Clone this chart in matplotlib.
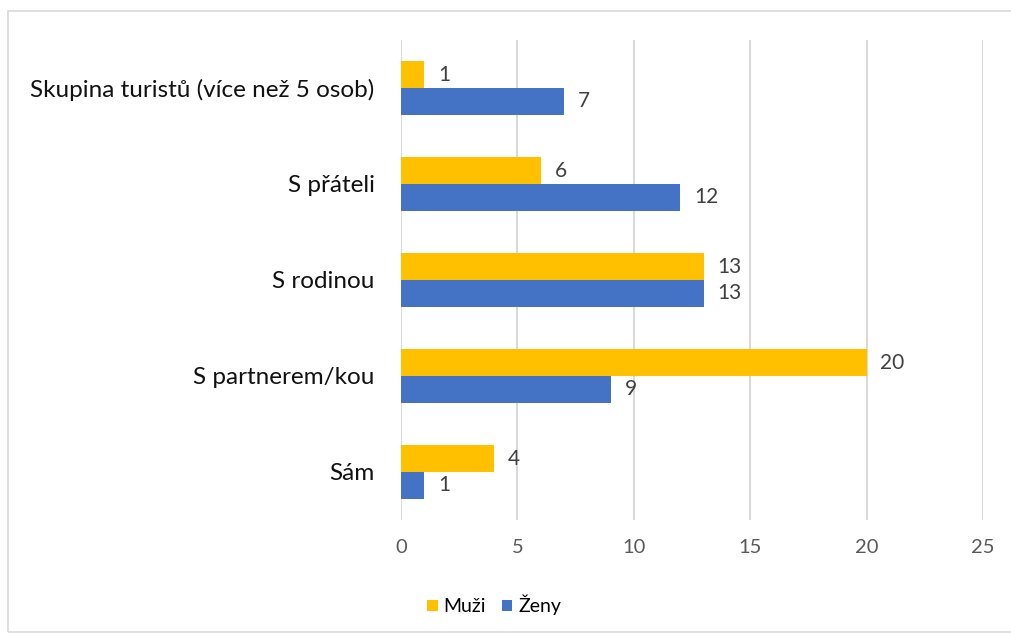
import matplotlib
matplotlib.use("Agg")
import matplotlib.pyplot as plt
from matplotlib.patches import Rectangle
import numpy as np

categories = ["Sám", "S partnerem/kou", "S rodinou", "S přáteli",
              "Skupina turistů (více než 5 osob)"]
muzi = [4, 20, 13, 6, 1]
zeny = [1, 9, 13, 12, 7]
series_names = ["Muži", "Ženy"]
x_ticks = [0, 5, 10, 15, 20, 25]

plt.rcParams["font.family"] = ["Lato", "DejaVu Sans"]

W, H = 1011, 635
fig = plt.figure(figsize=(W / 100, H / 100), dpi=100)
fig.patches.append(Rectangle((8 / W, 0.004), 1.2, 1 - 11 / H - 0.004,
                             transform=fig.transFigure, fill=False,
                             edgecolor="#d9d9d9", linewidth=1.2))

ax = fig.add_axes([401 / W, 1 - 520 / H, (983 - 401) / W, 480 / H])

y = np.arange(len(categories))
h = 0.28
ax.barh(y + h / 2, muzi, height=h, color="#FFC000", label=series_names[0], zorder=3)
ax.barh(y - h / 2, zeny, height=h, color="#4472C4", label=series_names[1], zorder=3)

for yi, v in zip(y + h / 2, muzi):
    ax.annotate(str(v), (v, yi), xytext=(10, 0), textcoords="offset points",
                va="center", ha="left", fontsize=15, color="#404040")
for yi, v in zip(y - h / 2, zeny):
    ax.annotate(str(v), (v, yi), xytext=(10, 0), textcoords="offset points",
                va="center", ha="left", fontsize=15, color="#404040")

ax.set_xlim(0, 25)
ax.set_ylim(-0.5, len(categories) - 0.5)
ax.set_xticks(x_ticks)
ax.set_yticks(y)
ax.set_yticklabels(categories, fontsize=17.5, color="#111111")
ax.tick_params(axis="x", labelsize=14.5, colors="#595959", length=0, pad=14)
ax.tick_params(axis="y", length=0, pad=19)
for s in ax.spines.values():
    s.set_visible(False)
ax.grid(axis="x", color="#d9d9d9", linewidth=1.5, zorder=0)
ax.set_axisbelow(True)

leg = fig.legend(loc="center", bbox_to_anchor=(494 / W, 1 - 605 / H), ncol=2,
                 frameon=False, fontsize=14, handlelength=0.55, handleheight=0.55,
                 handletextpad=0.3, columnspacing=0.8)

fig.savefig("out.png", dpi=100)
